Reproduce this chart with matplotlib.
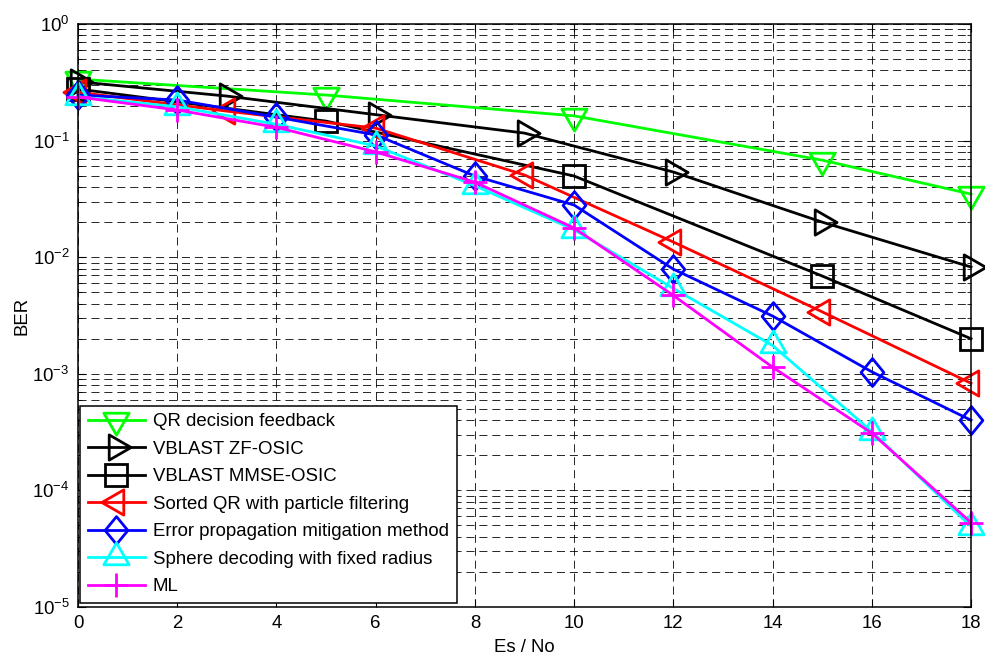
import numpy as np
import matplotlib
matplotlib.use('Agg')
import matplotlib.pyplot as plt
from matplotlib.path import Path
from matplotlib.ticker import LogLocator, FixedLocator, NullFormatter

# BER curves vs Es/No (dB)
x_qr = [0, 5, 10, 15, 18]
ber_qr = [0.337, 0.246, 0.163, 0.068, 0.0348]

x_zf = [0, 3, 6, 9, 12, 15, 18]
ber_zf = [0.32, 0.241, 0.167, 0.116, 0.0538, 0.020, 0.00824]

x_mmse = [0, 5, 10, 15, 18]
ber_mmse = [0.277, 0.147, 0.0497, 0.0069, 0.0020]

x_sqr = [0, 3, 6, 9, 12, 15, 18]
ber_sqr = [0.26, 0.179, 0.128, 0.0507, 0.0135, 0.0034, 0.00083]

x_even = [0, 2, 4, 6, 8, 10, 12, 14, 16, 18]
ber_epm = [0.246, 0.223, 0.159, 0.112, 0.0497, 0.028, 0.0079, 0.00313, 0.00104, 0.0004]
ber_sd = [0.238, 0.195, 0.138, 0.09, 0.041, 0.0172, 0.0054, 0.00175, 0.00032, 4.9e-5]
ber_ml = [0.237, 0.183, 0.13, 0.08, 0.044, 0.0178, 0.0047, 0.00114, 0.00031, 5.3e-5]

labels = ['QR decision feedback', 'VBLAST ZF-OSIC', 'VBLAST MMSE-OSIC',
          'Sorted QR with particle filtering', 'Error propagation mitigation method',
          'Sphere decoding with fixed radius', 'ML']
x_ticks = [0, 2, 4, 6, 8, 10, 12, 14, 16, 18]


def poly_marker(verts):
    verts = list(verts) + [verts[0]]
    codes = [Path.MOVETO] + [Path.LINETO] * (len(verts) - 2) + [Path.CLOSEPOLY]
    return Path(verts, codes)


# triangles inscribed in a circle, like matlab's markers
s = np.sqrt(3) / 2
TRI_DOWN = poly_marker([(0, -1), (s, 0.5), (-s, 0.5)])
TRI_UP = poly_marker([(0, 1), (-s, -0.5), (s, -0.5)])
TRI_RIGHT = poly_marker([(1, 0), (-0.5, s), (-0.5, -s)])
TRI_LEFT = poly_marker([(-1, 0), (0.5, -s), (0.5, s)])
DIAMOND = poly_marker([(0, 1), (0.82, 0), (0, -1), (-0.82, 0)])

plt.rcParams['font.family'] = ['Liberation Sans', 'DejaVu Sans']
plt.rcParams['mathtext.default'] = 'regular'
plt.rcParams['axes.unicode_minus'] = False
FS = 13.4

fig = plt.figure(figsize=(9.85, 6.62), dpi=100)
ax = fig.add_axes([0.0792, 0.0831, 0.9066, 0.8806])

lw = 2.0
mew = 2.0
series = [
    (x_qr, ber_qr, '#00ff00', TRI_DOWN, 21),
    (x_zf, ber_zf, 'k', TRI_RIGHT, 21),
    (x_mmse, ber_mmse, 'k', 's', 15.5),
    (x_sqr, ber_sqr, 'r', TRI_LEFT, 21),
    (x_even, ber_epm, 'b', DIAMOND, 20),
    (x_even, ber_sd, '#00ffff', TRI_UP, 21),
    (x_even, ber_ml, '#ff00ff', '+', 17),
]
for (xs, ys, col, mk, ms), lab in zip(series, labels):
    ax.semilogy(xs, ys, color=col, lw=lw, marker=mk, ms=ms, mew=mew,
                mfc='none', mec=col, label=lab, clip_on=False)

ax.set_xlim(0, 18)
ax.set_ylim(1e-5, 1)
ax.xaxis.set_major_locator(FixedLocator(x_ticks))
ax.yaxis.set_major_locator(LogLocator(base=10, numticks=10))
ax.yaxis.set_minor_locator(LogLocator(base=10, subs=np.arange(2, 10), numticks=20))
ax.yaxis.set_minor_formatter(NullFormatter())

grid_kw = dict(color='k', lw=0.7, alpha=0.85, dashes=(8.3, 5))
ax.grid(True, which='major', axis='both', **grid_kw)
ax.grid(True, which='minor', axis='y', **grid_kw)
ax.set_axisbelow(True)

ax.tick_params(which='both', direction='in', top=True, right=True, labelsize=FS)
ax.tick_params(which='major', length=6, width=0.8, pad=6)
ax.tick_params(which='minor', length=3, width=0.6)
for sp in ax.spines.values():
    sp.set_linewidth(1.1)

ax.set_xlabel('Es / No', fontsize=FS, labelpad=5)
ax.set_ylabel('BER', fontsize=FS, labelpad=1)

leg = ax.legend(loc='lower left', bbox_to_anchor=(0.002, 0.007), borderaxespad=0,
                fontsize=FS, numpoints=1, handlelength=3.1, handletextpad=0.4,
                labelspacing=0.56, borderpad=0.42, fancybox=False, framealpha=1,
                edgecolor='k')
leg.get_frame().set_linewidth(1.1)

fig.savefig('out.png', dpi=100)
